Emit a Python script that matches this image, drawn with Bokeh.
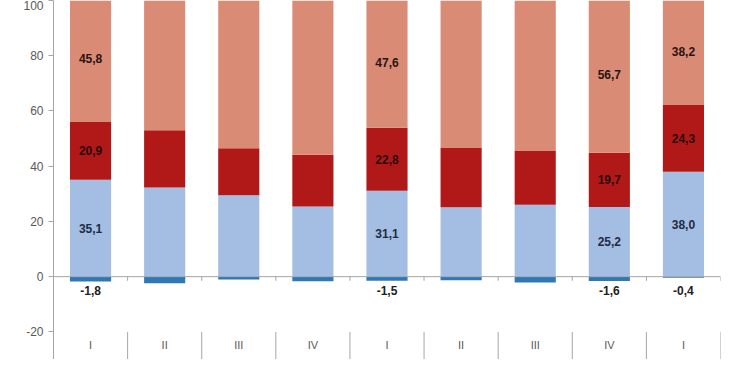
from bokeh.plotting import figure
from bokeh.models import Range1d, FixedTicker, Span, PrintfTickFormatter
from bokeh.core.properties import value
from bokeh.embed import file_html
from bokeh.resources import INLINE

# ---- data ----
quarters = ["I", "II", "III", "IV", "I", "II", "III", "IV", "I"]
blue_vals = [35.1, 32.3, 29.5, 25.4, 31.1, 25.1, 26.0, 25.2, 38.0]
red_vals = [20.9, 20.7, 17.0, 18.7, 22.8, 21.7, 19.7, 19.7, 24.3]
salmon_vals = [45.8, 49.4, 54.5, 57.6, 47.6, 54.5, 56.4, 56.7, 38.2]
neg_vals = [-1.8, -2.4, -1.0, -1.7, -1.5, -1.3, -2.1, -1.6, -0.4]
labeled = [True, False, False, False, True, False, False, True, True]
y_ticks = [-20, 0, 20, 40, 60, 80, 100]

# ---- styles ----
C_SALMON = "#D98B76"
C_RED = "#B11919"
C_BLUE = "#A3BEE2"
C_NEG = "#2F78B8"
C_AXIS = "#A6A6A6"
C_TEXT = "#595959"
FONT = "Liberation Sans"
BAR_W = 0.555
Y_MIN, Y_MAX = -30, 100
CAT_LABEL_Y = -24.6
SEP_TOP = -20

n = len(quarters)
xs = list(range(n))
red_bottom = blue_vals
red_top = [b + r for b, r in zip(blue_vals, red_vals)]
sal_top = [t + s for t, s in zip(red_top, salmon_vals)]

p = figure(width=734, height=359, output_backend="svg", toolbar_location=None,
           x_range=Range1d(-0.5, n - 0.5), y_range=Range1d(Y_MIN, Y_MAX),
           x_axis_location=None, min_border_left=53, min_border_right=14,
           min_border_top=0, min_border_bottom=0)
p.outline_line_color = None
p.grid.visible = False
p.background_fill_color = "white"
p.border_fill_color = "white"

# stacked bars
p.vbar(x=xs, width=BAR_W, bottom=neg_vals, top=[0] * n, color=C_NEG, line_color=None)
p.vbar(x=xs, width=BAR_W, bottom=[0] * n, top=blue_vals, color=C_BLUE, line_color=None)
p.vbar(x=xs, width=BAR_W, bottom=red_bottom, top=red_top, color=C_RED, line_color=None)
p.vbar(x=xs, width=BAR_W, bottom=red_top, top=sal_top, color=C_SALMON, line_color=None)

# zero axis line with ticks at category boundaries
p.add_layout(Span(location=0, dimension="width", line_color=C_AXIS, line_width=1))
bounds = [i - 0.5 for i in range(1, n + 1)]
p.segment(x0=bounds, x1=bounds, y0=[0] * n, y1=[-1.5] * n, line_color=C_AXIS, line_width=1)
# category separators at bottom
p.segment(x0=bounds, x1=bounds, y0=[SEP_TOP] * n, y1=[Y_MIN] * n, line_color=C_AXIS, line_width=1)
# category labels
p.text(x=xs, y=[CAT_LABEL_Y] * n, text=quarters, text_align="center", text_baseline="middle",
       text_font=value(FONT), text_font_size="11px", text_color=C_TEXT)

# value labels
def fmt(v):
    return f"{v:.1f}".replace(".", ",")

lx, ly, lt, lc = [], [], [], []
nx, nt = [], []
for i in range(n):
    if not labeled[i]:
        continue
    lx += [i, i, i]
    ly += [blue_vals[i] / 2, (red_bottom[i] + red_top[i]) / 2, (red_top[i] + sal_top[i]) / 2]
    lt += [fmt(blue_vals[i]), fmt(red_vals[i]), fmt(salmon_vals[i])]
    lc += ["#1E2B45", "#2A0A0A", "#2A1410"]
    nx.append(i)
    nt.append(fmt(neg_vals[i]))

p.text(x=lx, y=ly, text=lt, text_color=lc, text_align="center", text_baseline="middle",
       text_font=value(FONT), text_font_size="12px", text_font_style="bold")
p.text(x=nx, y=[0] * len(nx), text=nt, text_color="#222222", text_align="center",
       text_baseline="middle", y_offset=14,
       text_font=value(FONT), text_font_size="12px", text_font_style="bold")

# y axis
ya = p.yaxis[0]
ya.ticker = FixedTicker(ticks=y_ticks)
ya.formatter = PrintfTickFormatter(format="%d")
ya.axis_line_color = C_AXIS
ya.major_tick_line_color = C_AXIS
ya.major_tick_out = 5
ya.major_tick_in = 0
ya.minor_tick_line_color = None
ya.major_label_text_font = FONT
ya.major_label_text_font_size = "12px"
ya.major_label_text_color = C_TEXT
ya.major_label_standoff = 5

open("out.html", "w").write(file_html(p, INLINE))
